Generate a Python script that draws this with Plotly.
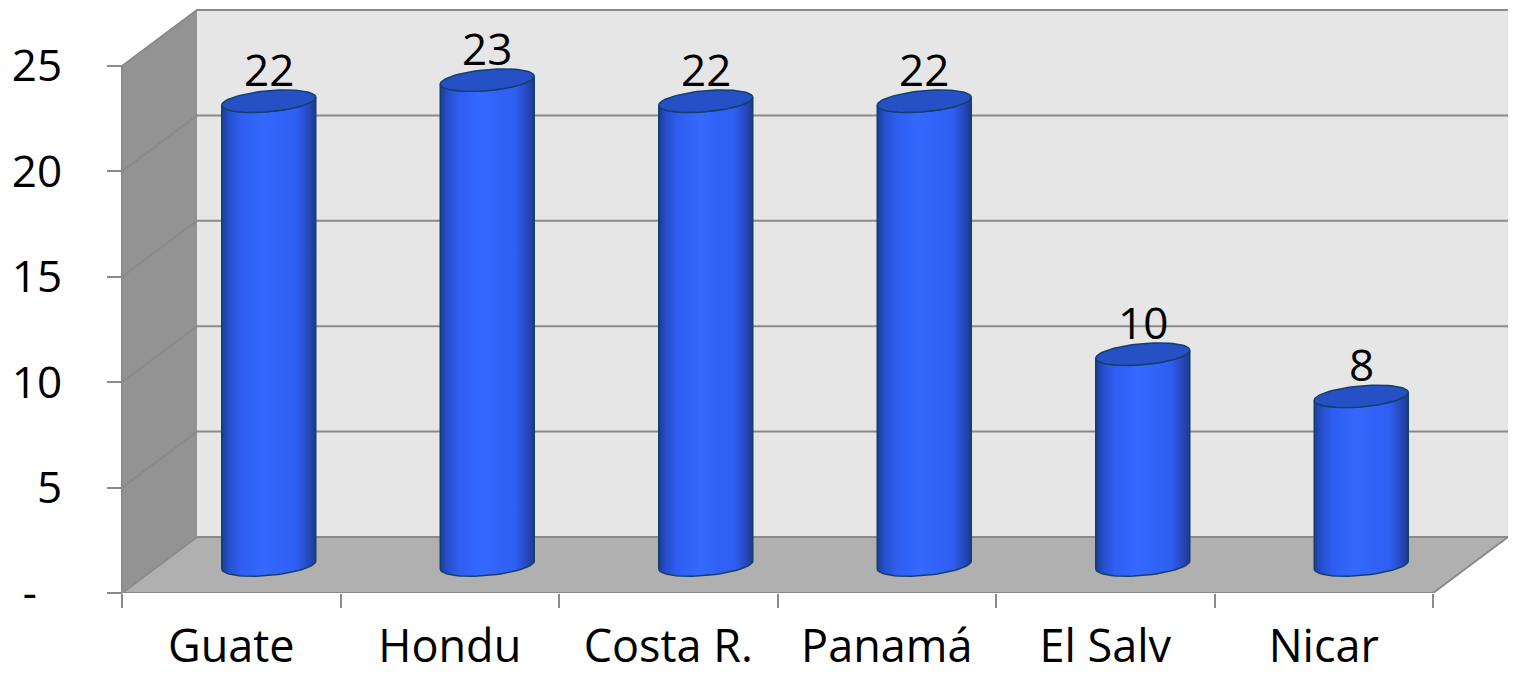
import numpy as np
import plotly.graph_objects as go

# ---------------- data ----------------
categories = ["Guate", "Hondu", "Costa R.", "Panamá", "El Salv", "Nicar"]
values = [22, 23, 22, 22, 10, 8]
y_tickvals = [0, 5, 10, 15, 20, 25]
y_ticktext = ["-\u2007", "5", "10", "15", "20", "25"]
y_max = 25

# ---------------- layout geometry (pixels) ----------------
W, H = 1515, 675
ML, MB = 100, 82          # plot area margins
AXIS_PX = 122             # pixel x of front vertical axis
PX_X = 218.5              # pixels per category slot
PX_Y = 21.08              # pixels per value unit
DX = 75 / PX_X            # depth offset (x units)
DY = 56 / PX_Y            # depth offset (y units)
n = len(categories)
x0, x1 = -0.5, n - 0.5
x_start = x0 - (AXIS_PX - ML) / PX_X
xr = [x_start, x_start + (W - ML) / PX_X]
yr = [0, (H - MB) / PX_Y]

GRID = "#8a8a8a"
SIDE = "#939393"
BACK = "#e6e6e6"
FLOOR = "#b0b0b0"
FONT = "Open Sans"

shapes = []
# side wall
shapes.append(dict(type="path", layer="below", xref="x", yref="y",
                   path=f"M {x0},0 L {x0+DX},{DY} L {x0+DX},{y_max+DY} L {x0},{y_max} Z",
                   fillcolor=SIDE, line=dict(width=0)))
# back wall
shapes.append(dict(type="rect", layer="below", xref="x", yref="y",
                   x0=x0 + DX, x1=x1 + DX, y0=DY, y1=y_max + DY,
                   fillcolor=BACK, line=dict(width=0)))
# floor
shapes.append(dict(type="path", layer="below", xref="x", yref="y",
                   path=f"M {x0},0 L {x1},0 L {x1+DX},{DY} L {x0+DX},{DY} Z",
                   fillcolor=FLOOR, line=dict(width=0)))
# gridlines (side wall diagonal + back wall horizontal)
for v in y_tickvals:
    shapes.append(dict(type="path", layer="below", xref="x", yref="y",
                       path=f"M {x0},{v} L {x0+DX},{v+DY} L {x1+DX},{v+DY}",
                       line=dict(color=GRID, width=2)))
# front edges
shapes.append(dict(type="line", layer="below", xref="x", yref="y",
                   x0=x0, x1=x0, y0=0, y1=y_max, line=dict(color=GRID, width=2)))
shapes.append(dict(type="path", layer="below", xref="x", yref="y",
                   path=f"M {x0},0 L {x1},0 L {x1+DX},{DY}",
                   line=dict(color=GRID, width=2)))

fig = go.Figure()

# cylinders
rx = 47 / PX_X
ry = 10.5 / PX_Y
k = 4 / PX_Y
grad = [[0.0, "#1c3d98"], [0.08, "#2550cc"], [0.2, "#2f5ef0"], [0.45, "#3468ff"],
        [0.8, "#2f5ef2"], [0.92, "#2649bf"], [1.0, "#1c3a8e"]]
OUTLINE = "#134068"
annotations = []
for i, (cat, v) in enumerate(zip(categories, values)):
    cx = i + DX / 2
    yb = DY / 2
    yt = v + DY / 2
    t1 = np.linspace(np.pi, 2 * np.pi, 40)
    bx = cx + rx * np.cos(t1)
    by = yb + ry * np.sin(t1) + k * np.cos(t1)
    t2 = np.linspace(0, -np.pi, 40)
    tx = cx + rx * np.cos(t2)
    ty = yt + ry * np.sin(t2) + k * np.cos(t2)
    xs = np.concatenate([bx, tx, [bx[0]]])
    ys = np.concatenate([by, ty, [by[0]]])
    fig.add_trace(go.Scatter(x=xs, y=ys, mode="lines", fill="toself",
                             fillgradient=dict(type="horizontal", colorscale=grad),
                             line=dict(color=OUTLINE, width=1.5),
                             hoverinfo="skip", showlegend=False))
    tc = np.linspace(0, 2 * np.pi, 80)
    fig.add_trace(go.Scatter(x=cx + rx * np.cos(tc),
                             y=yt + ry * np.sin(tc) + k * np.cos(tc),
                             mode="lines", fill="toself", fillcolor="#2651c6",
                             line=dict(color=OUTLINE, width=1.5),
                             hoverinfo="skip", showlegend=False))
    annotations.append(dict(x=cx, y=yt + ry, xref="x", yref="y", text=str(v),
                            showarrow=False, yanchor="bottom", yshift=-10,
                            font=dict(family=FONT, size=44, color="black")))

fig.update_layout(
    width=W, height=H,
    margin=dict(l=ML, r=0, t=0, b=MB, autoexpand=False),
    paper_bgcolor="white", plot_bgcolor="white",
    shapes=shapes, annotations=annotations,
    showlegend=False,
    font=dict(family=FONT, size=44, color="black"),
    xaxis=dict(range=xr, showgrid=False, zeroline=False, showline=False,
               automargin=False,
               tickvals=list(range(n)), ticktext=categories, ticks="",
               ticklabelstandoff=23,
               minor=dict(tickvals=[x0 + j for j in range(n + 1)], ticks="outside",
                          ticklen=14, tickwidth=2, tickcolor=GRID, showgrid=False),
               tickfont=dict(family=FONT, size=45, color="black")),
    yaxis=dict(range=yr, showgrid=False, zeroline=False, showline=False,
               automargin=False,
               anchor="free", position=(AXIS_PX - ML) / (W - ML),
               tickvals=y_tickvals, ticktext=y_ticktext, ticks="outside",
               ticklen=15, tickwidth=2, tickcolor=GRID, ticklabelstandoff=36,
               tickfont=dict(family=FONT, size=44, color="black")),
)

fig.write_html("out.html", config={"displayModeBar": False},
               post_script="document.body.style.margin='0px';document.body.style.overflow='hidden';")
